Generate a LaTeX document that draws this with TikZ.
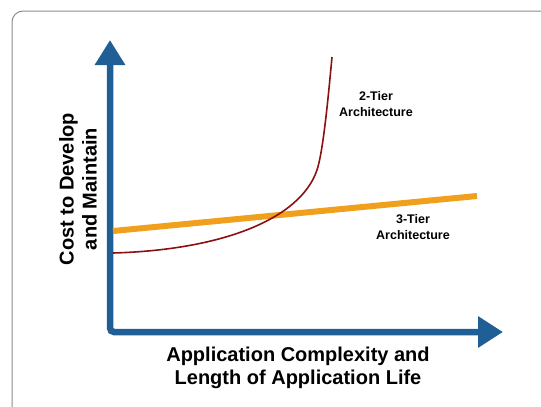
\documentclass[tikz,border=0pt]{standalone}
\usepackage{fontspec}
\setmainfont{Liberation Sans}
\usetikzlibrary{arrows.meta}
\definecolor{axisblue}{HTML}{1F5F96}
\definecolor{tierorange}{HTML}{F0A01C}
\definecolor{tierred}{HTML}{8B1010}
\definecolor{framegray}{HTML}{8C8C8C}
\begin{document}
\begin{tikzpicture}[x=1pt,y=-1pt,
  axis/.style={draw=axisblue,line width=6.5pt,rounded corners=4pt,
    {Triangle[width=29pt,length=25pt]}-{Triangle[width=30pt,length=25pt]}},
  twotier/.style={draw=tierred,line width=1.6pt},
  threetier/.style={draw=tierorange,line width=6pt},
  lbl/.style={font=\bfseries\fontsize{12.5}{16}\selectfont,align=center,inner sep=0pt},
  axlbl/.style={font=\bfseries\fontsize{20}{23}\selectfont,align=center,inner sep=0pt}]
  \useasboundingbox (0,0) rectangle (541,407);
  \clip (0,0) rectangle (541,407);
  % outer panel frame
  \draw[framegray,line width=1pt,rounded corners=11pt] (12,11) rectangle (580,440);

  % axes
  \coordinate (ytip) at (110,40);
  \coordinate (origin) at (110,332);
  \coordinate (xtip) at (503,332);
  \draw[axis] (ytip) -- (origin) -- (xtip);

  % 3-tier cost line
  \coordinate (o1) at (113,231);
  \coordinate (o2) at (477,196);
  \draw[threetier] (o1) -- (o2);

  % 2-tier cost curve
  \coordinate (r0) at (113,253);
  \coordinate (r1) at (317,170);
  \coordinate (r2) at (332,57);
  \draw[twotier] (r0) .. controls (220,250) and (300,220) .. (r1)
                      .. controls (323,152) and (328,100) .. (r2);

  % labels
  \node[lbl] (two) at (376,104) {2-Tier\\Architecture};
  \node[lbl] (three) at (413,227) {3-Tier\\Architecture};
  \node[axlbl,rotate=90] (ylab) at (78,189) {Cost to Develop\\and Maintain};
  \node[axlbl] (xlab) at (298,368) {Application Complexity and\\Length of Application Life};
\end{tikzpicture}
\end{document}
